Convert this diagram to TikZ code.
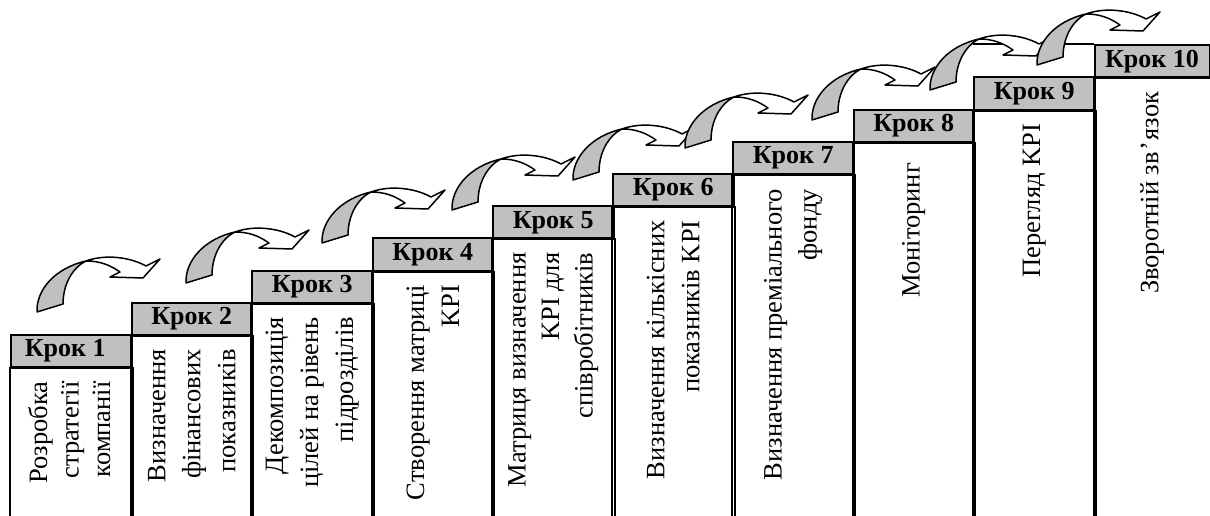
\documentclass[tikz,border=0pt]{standalone}
\usepackage{fontspec}
\setmainfont{Liberation Serif}
\usetikzlibrary{calc}
\definecolor{hdrgray}{RGB}{192,192,192}
\tikzset{
  hdr/.style={draw=black, line width=2pt, fill=hdrgray, anchor=north west,
    minimum height=32.2pt, minimum width=120.5pt, inner sep=0pt,
    font=\fontsize{26}{30}\selectfont\bfseries},
  bodyline/.style={draw=black, line width=2pt},
  bodytxt/.style={rotate=90, anchor=east, align=right, inner sep=0pt,
    font=\fontsize{26.5}{35}\selectfont},
  curvarrow/.pic={
    \filldraw[fill=hdrgray, line width=1.5pt, line join=round]
      (0,0) .. controls (-1,-22) and (18,-44) .. (49,-51)
      .. controls (35,-44) and (26,-27) .. (26,-8) -- cycle;
    \filldraw[fill=white, line width=1.5pt, line join=round]
      (49,-51) .. controls (68,-58) and (93,-55) .. (109,-46)
      -- (123,-53) -- (106,-34) -- (73,-35) -- (83,-40)
      .. controls (73,-47) and (63,-51) .. (49,-51) -- cycle;
  }
}
\begin{document}
\begin{tikzpicture}[x=1pt,y=-1pt]
\useasboundingbox (0,0) rectangle (1210,516);
\coordinate (bot) at (0,530);
% headers
\node[hdr] (h1) at (10,334) {Крок 1\hspace*{12pt}};
\node[hdr] (h2) at (130.5,301.8) {Крок 2};
\node[hdr] (h3) at (251,269.6) {Крок 3};
\node[hdr] (h4) at (371.5,237.4) {Крок 4};
\node[hdr] (h5) at (492,205.2) {Крок 5};
\node[hdr] (h6) at (612,173) {Крок 6};
\node[hdr] (h7) at (732,140.8) {Крок 7};
\node[hdr] (h8) at (852.5,108.6) {Крок 8};
\node[hdr] (h9) at (973,76.4) {Крок 9};
\node[hdr, minimum width=115pt] (h10) at (1093.5,44.2) {Крок 10};
% bodies
\foreach \i in {1,...,10}{
  \draw[bodyline] (h\i.south west) rectangle (h\i.south east |- bot);
}
\draw[bodyline] (h9.north west |- h10.north) -- (h10.north west);
% texts
\node[bodytxt, font=\fontsize{26.5}{31.5}\selectfont] (t1) at ($(h1.south)+(-2,13)$) {Розробка\\стратегії\\компанії};
\node[bodytxt] (t2) at ($(h2.south)+(0,13)$) {Визначення\\фінансових\\показників};
\node[bodytxt] (t3) at ($(h3.south)+(0,13)$) {Декомпозиція\\цілей на рівень\\підрозділів};
\node[bodytxt] (t4) at ($(h4.south)+(0,13)$) {Створення матриці\\KPI};
\node[bodytxt, font=\fontsize{26.5}{33.5}\selectfont] (t5) at ($(h5.south)+(0,13)$) {Матриця визначення\\KPI для\\співробітників};
\node[bodytxt] (t6) at ($(h6.south)+(0,13)$) {Визначення кількісних\\показників KPI};
\node[bodytxt] (t7) at ($(h7.south)+(0,14)$) {Визначення преміального\\фонду};
\node[bodytxt] (t8) at ($(h8.south)+(0,20)$) {Моніторинг};
\node[bodytxt] (t9) at ($(h9.south)+(0,13)$) {Перегляд KPI};
\node[bodytxt] (t10) at ($(h10.south)+(0,13)$) {Зворотній зв\kern2pt’\kern1pt язок};
% arrows
\pic at (37,312) {curvarrow};
\pic at (186,283) {curvarrow};
\pic at (322,243) {curvarrow};
\pic at (452,210) {curvarrow};
\pic at (573,180) {curvarrow};
\pic at (685,148) {curvarrow};
\pic at (812,120) {curvarrow};
\pic at (930,90) {curvarrow};
\pic at (1037,65) {curvarrow};
\end{tikzpicture}
\end{document}
